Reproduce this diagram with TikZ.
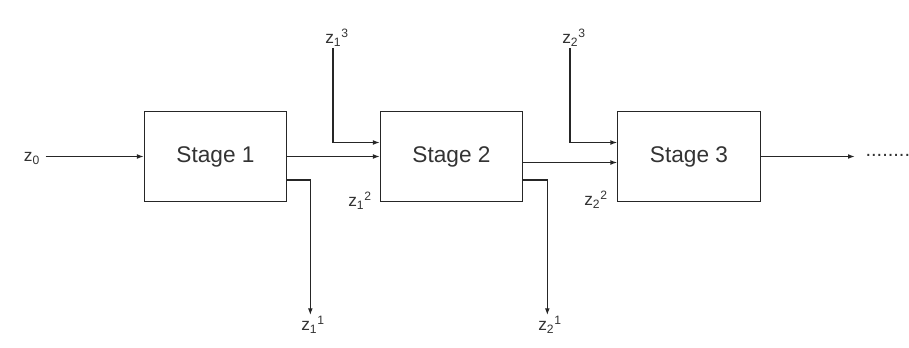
\documentclass[tikz,border=0pt]{standalone}
\usepackage{fontspec}
\setmainfont{Liberation Sans}
\usetikzlibrary{arrows.meta,calc}
\definecolor{Ink}{HTML}{262626}
\definecolor{Label}{HTML}{333333}

\begin{document}
\begin{tikzpicture}[x=0.75pt,y=0.75pt,
    stagebox/.style={draw=Ink,line width=0.8pt,minimum width=107pt,minimum height=67pt,text=Label,font=\fontsize{17}{20}\selectfont},
    lbl/.style={text=Label,inner sep=1pt,font=\fontsize{13}{15}\selectfont},
    flow/.style={draw=Ink,line width=0.8pt,-{Latex[length=5pt,width=3.6pt]}}]
    \useasboundingbox (0,0) rectangle (909,347);

    % stages
    \node[stagebox] (s1) at (215.5,190.5) {Stage 1};
    \node[stagebox] (s2) at (451.5,190.5) {Stage 2};
    \node[stagebox] (s3) at (689,190.5) {Stage 3};

    % labels
    \node[lbl] (z0) at (32,189) {z\textsubscript{0}};
    \node[lbl,anchor=south] (z13) at (337,299) {z\textsubscript{1}\textsuperscript{3}};
    \node[lbl,anchor=south] (z23) at (574,299) {z\textsubscript{2}\textsuperscript{3}};
    \node[lbl] (z12) at (360,146) {z\textsubscript{1}\textsuperscript{2}};
    \node[lbl] (z22) at (596,147) {z\textsubscript{2}\textsuperscript{2}};
    \node[lbl,anchor=north] (z11) at (313,32) {z\textsubscript{1}\textsuperscript{1}};
    \node[lbl,anchor=north] (z21) at (550,32) {z\textsubscript{2}\textsuperscript{1}};
    \node[lbl,anchor=west,font=\fontsize{15}{17}\selectfont] (dots) at (864,192) {........};

    % connectors
    \draw[flow] ($(z0.east |- s1.west)+(4,0)$) -- (s1.west);
    \draw[flow] (s1.east) -- (s2.west);
    \draw[flow] ([xshift=-3pt]z13.south) |- ($(s2.west)+(0,14)$);
    \draw[flow] ($(s1.east)+(0,-23.5)$) -| ([xshift=-2pt]z11.north);
    \draw[flow] ($(s2.east)+(0,-6)$) -- ($(s3.west)+(0,-6)$);
    \draw[flow] ([xshift=-3pt]z23.south) |- ($(s3.west)+(0,14)$);
    \draw[flow] ($(s2.east)+(0,-23.5)$) -| ([xshift=-2pt]z21.north);
    \draw[flow,shorten >=7pt] (s3.east) -- (s3.east -| dots.west);
\end{tikzpicture}
\end{document}
